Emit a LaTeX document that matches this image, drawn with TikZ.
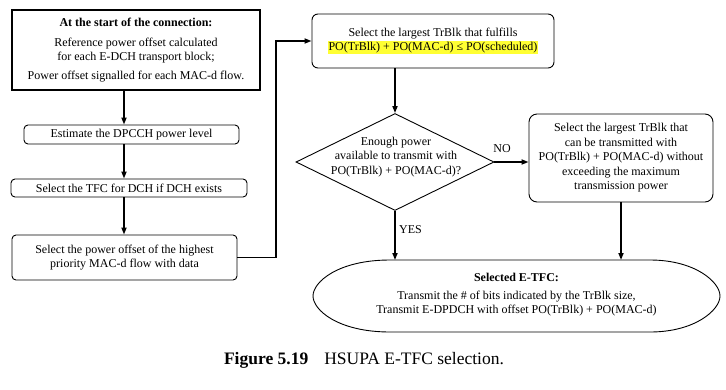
\documentclass[tikz,border=0pt]{standalone}
\usepackage{fontspec}
\setmainfont{Liberation Serif}
\usetikzlibrary{shapes.geometric,arrows.meta}
\definecolor{hl}{HTML}{FFFF33}
\begin{document}
\begin{tikzpicture}[x=1pt,y=-1pt,
  every node/.style={font=\fontsize{12}{14.5}\selectfont, inner sep=0pt},
  boxr/.style={draw, line width=0.9pt, rounded corners=4pt, align=center},
  conn/.style={line width=1.6pt, -{Triangle[length=7pt,width=5pt]}}]
\useasboundingbox (0,0) rectangle (726,389);
\fill[white] (0,0) rectangle (726,389);

\node[draw, line width=1.6pt, minimum width=248pt, minimum height=80pt, align=center] (start) at (136,50)
  {\textbf{At the start of the connection:}\\[5pt]Reference power offset calculated\\for each E-DCH transport block;\\[4pt]Power offset signalled for each MAC-d flow.};
\node[boxr, minimum width=215pt, minimum height=19pt] (dpcch) at (131.5,134.5) {Estimate the DPCCH power level};
\node[boxr, minimum width=236pt, minimum height=18pt] (tfc) at (129,188) {Select the TFC for DCH if DCH exists};
\node[boxr, minimum width=225pt, minimum height=45pt] (flow) at (124.5,257.5) {Select the power offset of the highest\\priority MAC-d flow with data};
\coordinate (colL) at (124,0);
\draw[conn] (start.south -| colL) -- (dpcch.north -| colL);
\draw[conn] (dpcch.south -| colL) -- (tfc.north -| colL);
\draw[conn] (tfc.south -| colL) -- (flow.north -| colL);

\node[boxr, rounded corners=6pt, minimum width=242pt, minimum height=54pt] (fulfil) at (433,41)
  {Select the largest TrBlk that fulfills\\{\setlength{\fboxsep}{1pt}\colorbox{hl}{PO(TrBlk) + PO(MAC-d) ≤ PO(scheduled)}}};
\coordinate (turn) at (276,0);
\draw[conn] (flow.east) -- (flow.east -| turn) -- (turn |- fulfil.west) -- (fulfil.west);

\node[diamond, draw, line width=0.9pt, minimum width=198pt, minimum height=97pt, inner sep=0pt] (dia) at (395,162) {};
\node[align=center] (diatxt) at (396,157) {Enough power\\available to transmit with\\PO(TrBlk) + PO(MAC-d)?};
\draw[conn] (fulfil.south -| dia.north) -- (dia.north);

\node[boxr, rounded corners=8pt, minimum width=184pt, minimum height=88pt] (largest) at (621,158)
  {Select the largest TrBlk that\\can be transmitted with\\PO(TrBlk) + PO(MAC-d) without\\exceeding the maximum\\transmission power};
\draw[conn] (dia.east) -- (dia.east -| largest.west);
\node (no) at (502,149) {NO};

\node[minimum width=407pt, minimum height=72pt, align=center] (etfc) at (516.5,295)
  {\textbf{Selected E-TFC:}\\[3pt]Transmit the \# of bits indicated by the TrBlk size,\\Transmit E-DPDCH with offset PO(TrBlk) + PO(MAC-d)};
\draw[line width=0.9pt] (390,260) -- (650,260) .. controls (695,260) and (720,282) .. (720,296)
  .. controls (720,310) and (695,332) .. (650,332) -- (390,332)
  .. controls (338,332) and (313,310) .. (313,296) .. controls (313,282) and (338,260) .. (390,260) -- cycle;
\draw[conn] (dia.south) -- (dia.south |- 0,260);
\draw[conn] (largest.south) -- (largest.south |- 0,260);
\node[anchor=west] (yes) at (399,230) {YES};

\node (cap) at (364,360) {\fontsize{17.5}{20}\selectfont\textbf{Figure 5.19}\hspace{16pt}HSUPA E-TFC selection.};
\end{tikzpicture}
\end{document}
